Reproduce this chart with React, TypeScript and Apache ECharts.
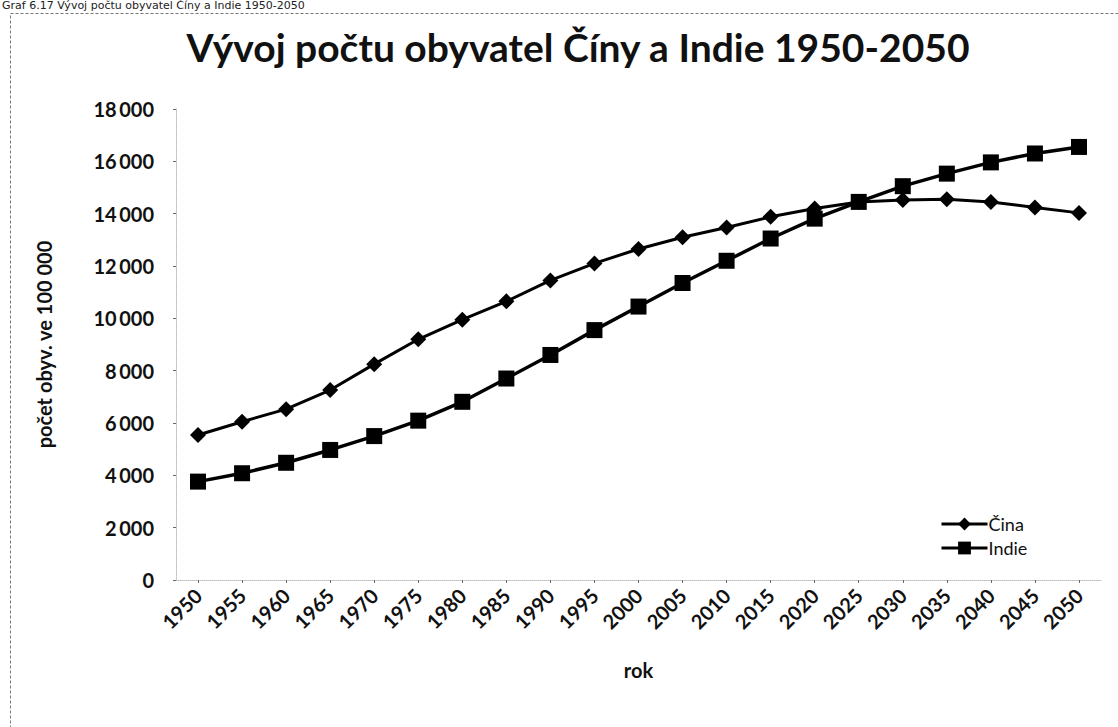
import React, { useEffect, useRef } from "react";
import * as echarts from "echarts";

const years = ["1950","1955","1960","1965","1970","1975","1980","1985","1990","1995","2000","2005","2010","2015","2020","2025","2030","2035","2040","2045","2050"];
const cina = [5540, 6050, 6530, 7260, 8250, 9200, 9950, 10650, 11450, 12100, 12650, 13100, 13470, 13880, 14200, 14450, 14520, 14550, 14450, 14240, 14030];
const indie = [3760, 4080, 4480, 4970, 5500, 6090, 6810, 7700, 8600, 9550, 10450, 11350, 12200, 13050, 13810, 14450, 15050, 15530, 15960, 16300, 16550];
const yTicks = { min: 0, max: 18000, interval: 2000 };

const FONT = "Lato, 'Open Sans', sans-serif";

export default function App() {
  const ref = useRef<HTMLDivElement>(null);
  useEffect(() => {
    if (!ref.current) return;
    const chart = echarts.init(ref.current, undefined, { renderer: "svg" });
    const fmt = (v: number) => {
      if (v === 0) return "0";
      const th = Math.floor(v / 1000);
      const rest = String(v % 1000).padStart(3, "0");
      return th + "\u2009" + rest;
    };
    chart.setOption({
      animation: false,
      backgroundColor: "#ffffff",
      textStyle: { fontFamily: FONT },
      title: {
        text: "Vývoj počtu obyvatel Číny a Indie 1950-2050",
        left: 573,
        top: 22,
        textAlign: "center",
        textStyle: { fontFamily: FONT, fontSize: 39, fontWeight: "bold", color: "#111" },
      },
      graphic: [
        {
          type: "text",
          left: 2,
          top: 0,
          style: { text: "Graf 6.17 Vývoj počtu obyvatel Číny a Indie 1950-2050", fontSize: 11, fontFamily: "'DejaVu Sans', sans-serif", fill: "#222" },
        },
        {
          type: "rect",
          shape: { x: 10.5, y: 13.5, width: 1200, height: 800 },
          style: { fill: "none", stroke: "#777", lineWidth: 1, lineDash: [3, 2] },
          z: -1,
        },
      ],
      legend: {
        orient: "vertical",
        left: 935,
        top: 510,
        itemGap: 6,
        itemWidth: 46,
        itemHeight: 16,
        lineStyle: { width: 3 },
        textStyle: { fontFamily: FONT, fontSize: 18, color: "#111", padding: [0, 0, 0, -4] },
        data: ["Čina", "Indie"],
      },
      grid: { left: 176, right: 17, top: 109, bottom: 147 },
      xAxis: {
        type: "category",
        data: years,
        boundaryGap: true,
        name: "rok",
        nameLocation: "middle",
        nameGap: 80,
        nameTextStyle: { fontFamily: FONT, fontSize: 20, fontWeight: "bold", color: "#111" },
        axisLine: { show: true, lineStyle: { color: "#bbb", type: "dotted", width: 1 } },
        axisTick: { show: true, alignWithLabel: true, length: 3, lineStyle: { color: "#666" } },
        axisLabel: {
          rotate: 45,
          margin: 12,
          fontFamily: FONT,
          fontSize: 20,
          fontWeight: "bold",
          color: "#111",
          interval: 0,
        },
      },
      yAxis: {
        type: "value",
        min: yTicks.min,
        max: yTicks.max,
        interval: yTicks.interval,
        name: "počet obyv. ve 100 000",
        nameLocation: "middle",
        nameGap: 122,
        nameTextStyle: { fontFamily: FONT, fontSize: 20, fontWeight: "bold", color: "#111" },
        axisLine: { show: true, lineStyle: { color: "#bbb", type: "dotted", width: 1 } },
        axisTick: { show: true, length: 3, lineStyle: { color: "#666" } },
        splitLine: { show: false },
        axisLabel: {
          margin: 22,
          fontFamily: FONT,
          fontSize: 20,
          fontWeight: "bold",
          color: "#111",
          formatter: fmt,
        },
      },
      series: [
        {
          name: "Čina",
          type: "line",
          data: cina,
          symbol: "diamond",
          symbolSize: 16,
          lineStyle: { color: "#000", width: 3 },
          itemStyle: { color: "#000" },
          z: 2,
        },
        {
          name: "Indie",
          type: "line",
          data: indie,
          symbol: "rect",
          symbolSize: 16,
          lineStyle: { color: "#000", width: 3.5 },
          itemStyle: { color: "#000" },
          z: 3,
        },
      ],
    });
    return () => chart.dispose();
  }, []);
  return (
    <div style={{ position: "fixed", left: 0, top: 0, width: 1118, height: 727, background: "#fff" }}>
      <div ref={ref} style={{ width: 1118, height: 727 }} />
    </div>
  );
}
